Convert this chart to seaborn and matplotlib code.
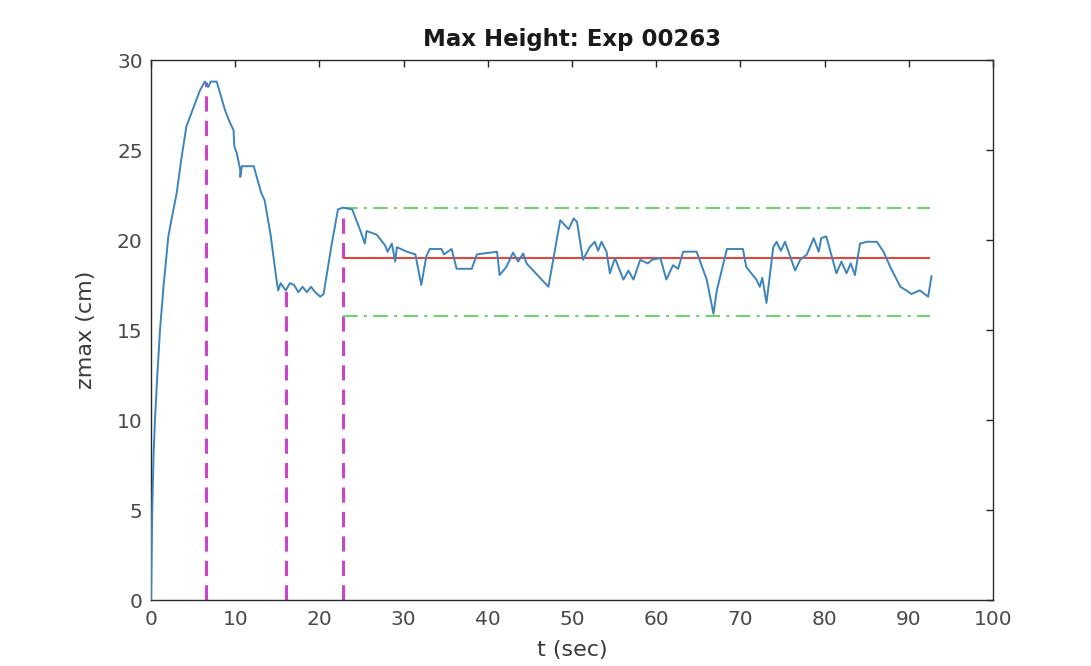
import numpy as np
import pandas as pd
import matplotlib
matplotlib.use("Agg")
import matplotlib.pyplot as plt
import seaborn as sns

# Maximum surface height over time for experiment 00263
t_sec = [0.0, 0.15, 0.3, 0.47, 0.75, 1.07, 1.5, 2.06, 2.5, 3.05, 3.6, 4.2, 5.0, 5.8,
         6.4, 6.8, 7.1, 7.4, 7.8, 8.3, 8.8, 9.3, 9.8, 9.9, 10.2, 10.6, 10.6, 10.8,
         12.2, 13.1, 13.5, 14.2, 14.9, 15.1, 15.4, 16.0,
         16.5, 17.0, 17.5, 18.0, 18.5, 19.0, 19.5, 20.1, 20.5, 21.4, 22.2, 22.8, 23.9,
         24.8, 25.4, 25.6, 26.8, 27.8, 28.1, 28.6, 29.0, 29.2, 30.4, 31.4, 32.1,
         32.7, 33.1, 34.5, 34.8, 35.7, 36.3, 38.1, 38.7, 41.1, 41.4, 42.2, 43.0,
         43.6, 44.2, 44.6, 47.2, 48.6, 49.6, 50.2, 50.6, 51.3, 52.1, 52.7, 53.1,
         53.5, 54.1, 54.5, 55.1, 56.1, 56.7, 57.3, 58.1, 59.0, 59.5, 60.5, 61.2,
         62.0, 62.6, 63.2, 64.8, 66.0, 66.8, 67.2, 68.4, 70.3, 70.7, 71.9, 72.3,
         72.6, 73.1, 73.9, 74.3, 74.8, 75.3, 76.5, 77.1, 77.9, 78.7, 79.3, 79.6,
         80.2, 81.4, 82.0, 82.6, 83.1, 83.6, 84.2, 85.0, 86.2, 87.0, 87.8, 89.0,
         89.7, 90.3, 91.3, 92.3, 92.7]
z_max = [0.0, 5.0, 8.0, 10.0, 12.5, 15.0, 17.5, 20.2, 21.3, 22.6, 24.5, 26.3, 27.3, 28.3,
         28.8, 28.5, 28.8, 28.8, 28.8, 28.0, 27.2, 26.6, 26.1, 25.2, 24.8, 23.9, 23.5, 24.1,
         24.1, 22.6, 22.2, 20.3, 17.8, 17.2, 17.6, 17.2,
         17.6, 17.5, 17.1, 17.4, 17.1, 17.4, 17.1, 16.85, 17.0, 19.6, 21.7, 21.8, 21.7,
         20.6, 19.8, 20.5, 20.3, 19.7, 19.35, 19.8, 18.8, 19.6, 19.35, 19.2, 17.5,
         19.1, 19.5, 19.5, 19.2, 19.5, 18.4, 18.4, 19.2, 19.35, 18.05, 18.5, 19.3,
         18.8, 19.25, 18.7, 17.4, 21.1, 20.6, 21.2, 21.0, 18.9, 19.6, 19.9, 19.4,
         19.9, 19.35, 18.15, 19.0, 17.8, 18.3, 17.8, 18.9, 18.7, 18.9, 19.0, 17.8,
         18.6, 18.4, 19.35, 19.35, 17.8, 15.9, 17.2, 19.5, 19.5, 18.5, 17.8, 17.4,
         17.9, 16.5, 19.6, 19.9, 19.4, 19.9, 18.3, 18.9, 19.2, 20.1, 19.35, 20.1,
         20.2, 18.15, 18.8, 18.15, 18.7, 18.05, 19.8, 19.9, 19.9, 19.35, 18.5, 17.4,
         17.2, 17.0, 17.2, 16.85, 18.0]

# Event markers (vertical dashed lines) and their heights
event_t = [6.5, 16.0, 22.8]
event_z = [28.8, 17.4, 21.7]

# Steady-state statistics after the last event
steady_start = 22.8
steady_end = 92.5
steady_mean = 19.0
steady_max = 21.8
steady_min = 15.8

x_ticks = [0, 10, 20, 30, 40, 50, 60, 70, 80, 90, 100]
y_ticks = [0, 5, 10, 15, 20, 25, 30]

sns.set_style("white")
plt.rcParams["font.family"] = ["DejaVu Sans"]

fig = plt.figure(figsize=(10.91, 6.66), dpi=100)
ax = fig.add_axes([151 / 1091, 1 - 600 / 666, (993 - 151) / 1091, (600 - 60) / 666])

df = pd.DataFrame({"t": t_sec, "z": z_max})
sns.lineplot(data=df, x="t", y="z", ax=ax, color="#3d84bd", linewidth=1.4,
             sort=False, estimator=None, zorder=3)

ax.vlines(event_t, 0, event_z, colors="#cc44cc", linestyles=(0, (5, 3)),
          linewidth=2.2, zorder=2)

ax.hlines(steady_mean, steady_start, steady_end, colors="#e2473f", linewidth=1.5, zorder=2)
ax.hlines([steady_max, steady_min], steady_start, steady_end, colors="#6fd36f",
          linestyles=(0, (7, 3, 1.5, 3)), linewidth=1.5, zorder=2)

ax.set_xlim(0, 100)
ax.set_ylim(0, 30)
ax.set_xticks(x_ticks)
ax.set_yticks(y_ticks)
ax.tick_params(direction="in", length=5, width=1, top=True, right=True,
               labelsize=14.5, colors="#262626", labelcolor="#4a4a4a")
ax.tick_params(axis="x", pad=7)
ax.tick_params(axis="y", pad=6)
for s in ax.spines.values():
    s.set_color("#2b2b2b")
    s.set_linewidth(1.0)

ax.set_xlabel("t (sec)", fontsize=16, color="#3a3a3a", labelpad=8)
ax.set_ylabel("zmax (cm)", fontsize=16, color="#3a3a3a", labelpad=15)
ax.set_title("Max Height: Exp 00263", fontsize=16.5, fontweight="bold", color="#1a1a1a", pad=10)

fig.savefig("out.png", dpi=100, facecolor="white")
